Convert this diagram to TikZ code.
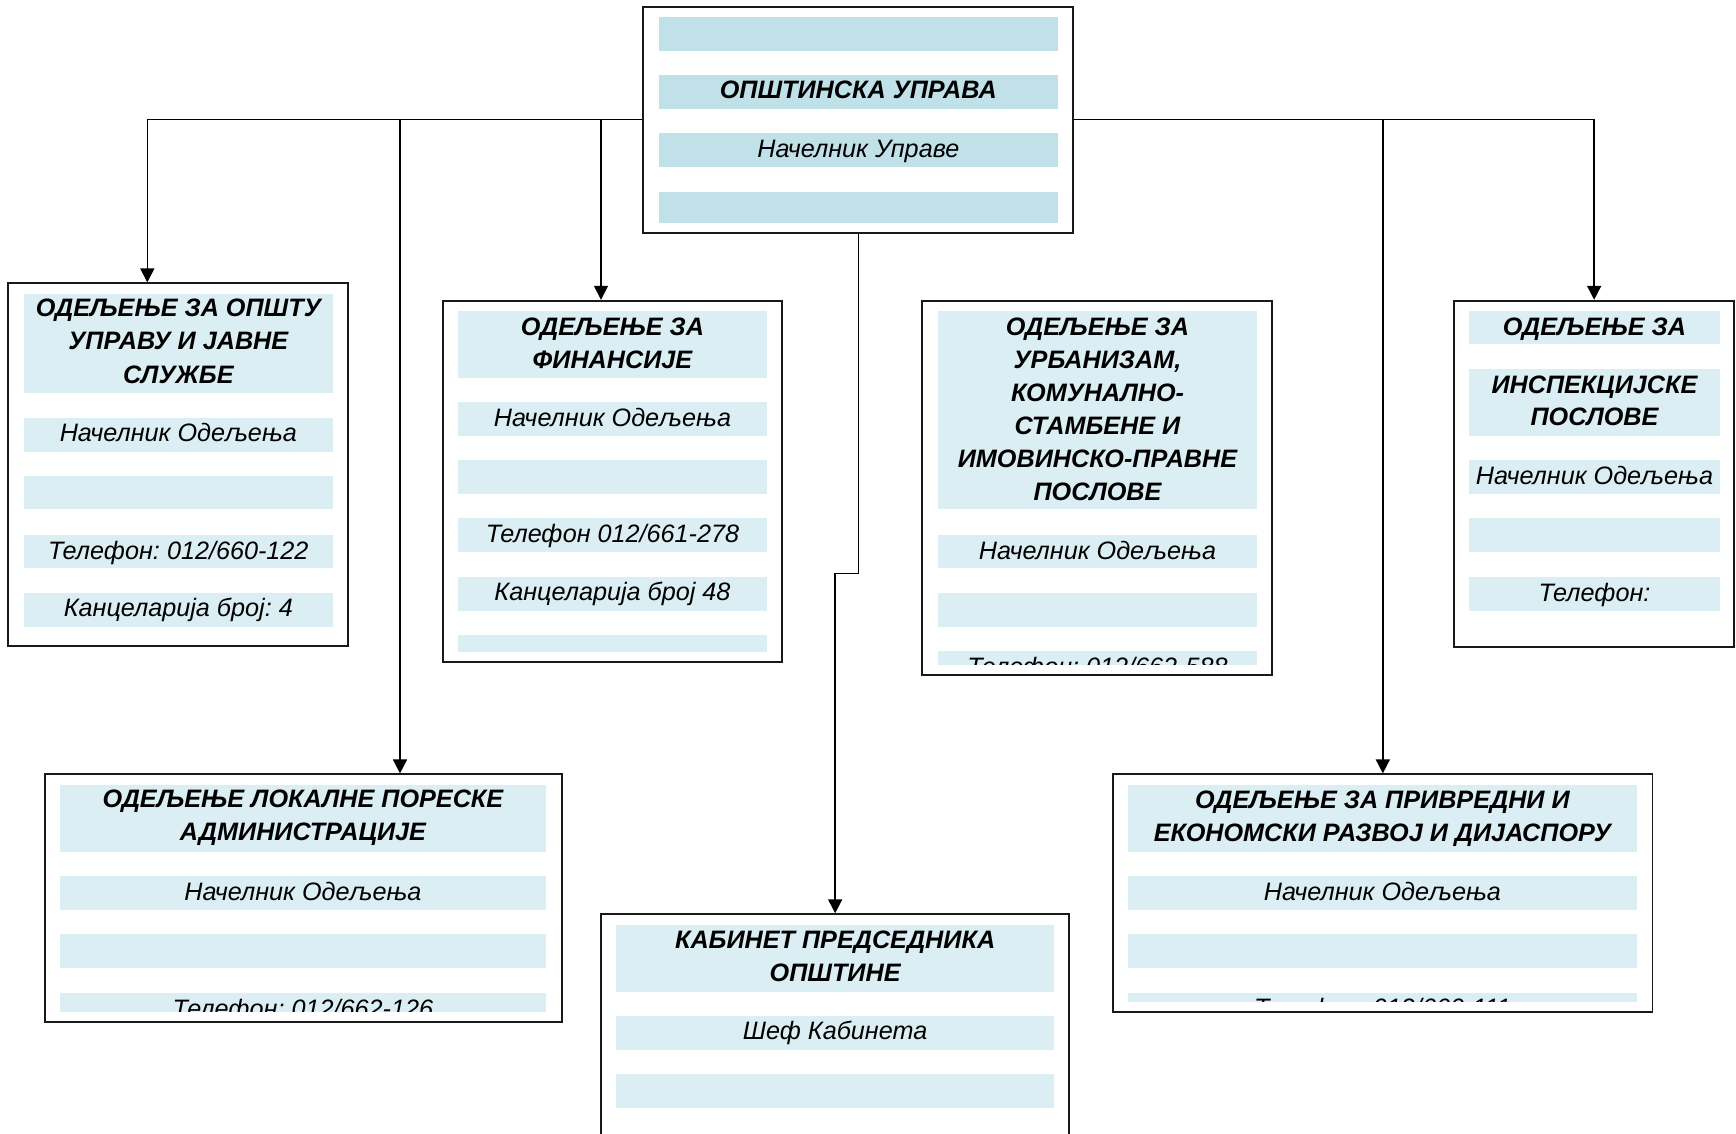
\documentclass[tikz,border=0pt]{standalone}
\usepackage{fontspec}
\setmainfont{Liberation Sans}
\frenchspacing
\usetikzlibrary{arrows.meta,fit}
\definecolor{bandlight}{RGB}{218,238,243}
\definecolor{banddark}{RGB}{193,225,232}
\definecolor{framec}{RGB}{25,25,25}
\newcommand\mlines[1]{\begin{tabular}[t]{@{}c@{}}#1\end{tabular}}
\tikzset{
  boxframe/.style={draw=framec, line width=1.8pt, fill=white, inner sep=0pt},
  ttl/.style={font=\bfseries\itshape\fontsize{25.2}{33.3}\selectfont, inner sep=0pt, anchor=base},
  lbl/.style={font=\itshape\fontsize{25.2}{33.3}\selectfont, inner sep=0pt, anchor=base},
  conn/.style={line width=1.6pt, draw=black},
  arr/.style={conn, -{Triangle[length=14pt,width=14pt]}},
}
\begin{document}
\begin{tikzpicture}[x=1pt,y=-1pt]
\useasboundingbox (0,0) rectangle (1736,1134);

% ---------- frames ----------
\node[boxframe, fit={(643.3,6.7) (1073.3,232.7)}] (top) {};
\node[boxframe, fit={(8.3,283.3) (348.3,645.7)}] (b1) {};
\node[boxframe, fit={(442.7,300.7) (782.3,662)}] (b2) {};
\node[boxframe, fit={(921.7,300.7) (1272.3,675)}] (b3) {};
\node[boxframe, fit={(1454,300.7) (1734.3,646.7)}] (b4) {};
\node[boxframe, fit={(44.8,774.3) (562,1021.7)}] (b5) {};
\node[boxframe, fit={(601,914.2) (1069.3,1150)}] (b6) {};
\node[boxframe, fit={(1113.2,774.3) (1652.5,1012.3)}] (b7) {};

% ---------- top box ----------
\fill[banddark] (659,16.7) rectangle (1057.7,50.7);
\fill[banddark] (659,75) rectangle (1057.7,108.7);
\fill[banddark] (659,132.7) rectangle (1057.7,166.7);
\fill[banddark] (659,192) rectangle (1057.7,223.3);
\node[ttl] (topT) at (858.35,99) {ОПШТИНСКА УПРАВА};
\node[lbl] (topN) at (858.35,157.3) {Начелник Управе};

% ---------- box 1 ----------
\fill[bandlight] (24,294) rectangle (332.7,393.3);
\fill[bandlight] (24,417.7) rectangle (332.7,451.7);
\fill[bandlight] (24,476) rectangle (332.7,509.3);
\fill[bandlight] (24,535) rectangle (332.7,568.3);
\fill[bandlight] (24,592.7) rectangle (332.7,626.7);
\node[ttl] (b1T) at (178.35,316.6) {\mlines{ОДЕЉЕЊЕ ЗА ОПШТУ\\УПРАВУ И ЈАВНЕ\\СЛУЖБЕ}};
\node[lbl] (b1N) at (178.35,441.7) {Начелник Одељења};
\node[lbl] (b1P) at (178.35,559) {Телефон: 012/660-122};
\node[lbl] (b1K) at (178.35,616.7) {Канцеларија број: 4};

% ---------- box 2 ----------
\begin{scope}
\clip (458,305) rectangle (767,651.7);
\fill[bandlight] (458,311) rectangle (767,377.7);
\fill[bandlight] (458,402) rectangle (767,435.7);
\fill[bandlight] (458,460) rectangle (767,493.7);
\fill[bandlight] (458,518) rectangle (767,551.7);
\fill[bandlight] (458,576.7) rectangle (767,610.7);
\fill[bandlight] (458,635) rectangle (767,669);
\node[ttl] (b2T) at (612.5,335) {\mlines{ОДЕЉЕЊЕ ЗА\\ФИНАНСИЈЕ}};
\node[lbl] (b2N) at (612.5,426) {Начелник Одељења};
\node[lbl] (b2P) at (612.5,542) {Телефон 012/661-278};
\node[lbl] (b2K) at (612.5,600.7) {Канцеларија број 48};
\end{scope}

% ---------- box 3 ----------
\begin{scope}
\clip (938,305) rectangle (1257,664.3);
\fill[bandlight] (938,311) rectangle (1257,509.3);
\fill[bandlight] (938,535) rectangle (1257,568.3);
\fill[bandlight] (938,593) rectangle (1257,626.7);
\fill[bandlight] (938,651) rectangle (1257,685);
\node[ttl, font=\bfseries\itshape\fontsize{25.2}{33}\selectfont] (b3T) at (1097.5,335.6)
  {\mlines{ОДЕЉЕЊЕ ЗА\\УРБАНИЗАМ,\\КОМУНАЛНО-\\СТАМБЕНЕ И\\ИМОВИНСКО-ПРАВНЕ\\ПОСЛОВЕ}};
\node[lbl] (b3N) at (1097.5,559) {Начелник Одељења};
\node[lbl] (b3P) at (1097.5,675) {Телефон: 012/662-588};
\end{scope}

% ---------- box 4 ----------
\fill[bandlight] (1469,311) rectangle (1720,344.3);
\fill[bandlight] (1469,369) rectangle (1720,435.7);
\fill[bandlight] (1469,460) rectangle (1720,493.7);
\fill[bandlight] (1469,518) rectangle (1720,551.7);
\fill[bandlight] (1469,576.7) rectangle (1720,610.7);
\node[ttl] (b4T) at (1594.5,335) {ОДЕЉЕЊЕ ЗА};
\node[ttl, font=\bfseries\itshape\fontsize{25.2}{32}\selectfont] (b4S) at (1594.5,393.5) {\mlines{ИНСПЕКЦИЈСКЕ\\ПОСЛОВЕ}};
\node[lbl] (b4N) at (1594.5,484) {Начелник Одељења};
\node[lbl] (b4P) at (1594.5,601) {Телефон:};

% ---------- box 5 ----------
\begin{scope}
\clip (60,780) rectangle (545.8,1011.7);
\fill[bandlight] (60,785) rectangle (545.8,851.7);
\fill[bandlight] (60,876) rectangle (545.8,910);
\fill[bandlight] (60,934) rectangle (545.8,968);
\fill[bandlight] (60,993.3) rectangle (545.8,1027);
\node[ttl] (b5T) at (302.9,807.5) {\mlines{ОДЕЉЕЊЕ ЛОКАЛНЕ ПОРЕСКЕ\\АДМИНИСТРАЦИЈЕ}};
\node[lbl] (b5N) at (302.9,900) {Начелник Одељења};
\node[lbl] (b5P) at (302.9,1017.5) {Телефон: 012/662-126};
\end{scope}

% ---------- box 6 ----------
\fill[bandlight] (616,925) rectangle (1054,992);
\fill[bandlight] (616,1015.5) rectangle (1054,1049.8);
\fill[bandlight] (616,1074.4) rectangle (1054,1107.5);
\node[ttl] (b6T) at (835.15,948) {\mlines{КАБИНЕТ ПРЕДСЕДНИКА\\ОПШТИНЕ}};
\node[lbl] (b6N) at (835.15,1039.5) {Шеф Кабинета};

% ---------- box 7 ----------
\begin{scope}
\clip (1128,780) rectangle (1636.8,1001.7);
\fill[bandlight] (1128,785) rectangle (1636.8,851.7);
\fill[bandlight] (1128,876) rectangle (1636.8,910);
\fill[bandlight] (1128,934) rectangle (1636.8,968);
\fill[bandlight] (1128,993) rectangle (1636.8,1027);
\node[ttl] (b7T) at (1382.4,808) {\mlines{ОДЕЉЕЊЕ ЗА ПРИВРЕДНИ И\\ЕКОНОМСКИ РАЗВОЈ И ДИЈАСПОРУ}};
\node[lbl] (b7N) at (1382.4,900) {Начелник Одељења};
\node[lbl] (b7P) at (1382.4,1016.8) {Телефон: 012/660-111};
\end{scope}

% ---------- connectors ----------
\coordinate (x1) at (147.3,120);
\coordinate (x5) at (400,120);
\coordinate (x2) at (601,120);
\coordinate (jog) at (835.15,573.5);
\draw[arr] (top.west) -| (x1 |- b1.north);
\draw[arr] (top.west) -| (x5 |- b5.north);
\draw[arr] (top.west) -| (x2 |- b2.north);
\draw[arr] (top.east) -| (b7.north);
\draw[arr] (top.east) -| (b4.north);
\draw[arr] (top.south) |- (jog) -- (b6.north);
\end{tikzpicture}
\end{document}
